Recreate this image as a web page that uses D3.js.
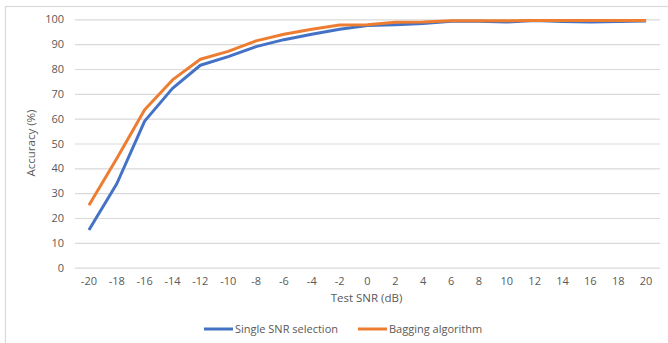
<!DOCTYPE html>
<html>
<head>
<meta charset="utf-8">
<script src="https://cdn.jsdelivr.net/npm/d3@7"></script>
<style>
  html, body { margin: 0; padding: 0; background: #fff; }
  svg { display: block; }
  text { font-family: "Open Sans", "Liberation Sans", sans-serif; fill: #595959; }
</style>
</head>
<body>
<script>
// Test SNR values (dB) on the category axis
const snr = [-20, -18, -16, -14, -12, -10, -8, -6, -4, -2, 0, 2, 4, 6, 8, 10, 12, 14, 16, 18, 20];
// Accuracy (%) for each method
const singleSnr = [15.2, 33.8, 59.0, 72.2, 81.5, 85.0, 89.0, 91.8, 94.0, 96.0, 97.5, 97.8, 98.3, 99.2, 99.2, 98.9, 99.5, 99.1, 98.9, 99.1, 99.3];
const bagging   = [25.1, 44.0, 63.6, 75.6, 83.9, 87.1, 91.3, 94.0, 96.0, 97.7, 97.8, 98.8, 98.9, 99.4, 99.4, 99.4, 99.5, 99.5, 99.5, 99.5, 99.5];
const yTicks = [0, 10, 20, 30, 40, 50, 60, 70, 80, 90, 100];
const seriesNames = ["Single SNR selection", "Bagging algorithm"];
const seriesColors = ["#4472C4", "#ED7D31"];

const W = 668, H = 343;
const plot = { left: 75, right: 660, top: 19.3, bottom: 267.7 };

const svg = d3.select("body").append("svg").attr("width", W).attr("height", H);

// chart frame
svg.append("rect")
  .attr("x", 5.5).attr("y", 6.5)
  .attr("width", 800).attr("height", 500)
  .attr("fill", "none").attr("stroke", "#d9d9d9").attr("stroke-width", 1.2);

const x = d3.scaleBand().domain(snr).range([plot.left, plot.right]);
const y = d3.scaleLinear().domain([0, 100]).range([plot.bottom, plot.top]);

// horizontal gridlines + y tick labels
const yAxis = d3.axisLeft(y).tickValues(yTicks).tickSize(-(plot.right - plot.left)).tickPadding(11);
const gy = svg.append("g").attr("transform", `translate(${plot.left},0)`).call(yAxis);
gy.select(".domain").remove();
gy.selectAll(".tick line").attr("stroke", "#d9d9d9").attr("stroke-width", 1.2);
gy.selectAll(".tick text").attr("font-size", 11).style("fill", "#595959")
  .style("font-family", "'Open Sans', sans-serif");

// x tick labels
const xAxis = d3.axisBottom(x).tickSize(0).tickPadding(10);
const gx = svg.append("g").attr("transform", `translate(0,${plot.bottom})`).call(xAxis);
gx.select(".domain").remove();
gx.selectAll(".tick text").attr("font-size", 11).style("fill", "#595959")
  .style("font-family", "'Open Sans', sans-serif");

// axis titles
svg.append("text")
  .attr("x", (plot.left + plot.right) / 2 - 1).attr("y", 302)
  .attr("text-anchor", "middle").attr("font-size", 11.5)
  .text("Test SNR (dB)");
svg.append("text")
  .attr("transform", `translate(35,143) rotate(-90)`)
  .attr("text-anchor", "middle").attr("font-size", 11.5)
  .text("Accuracy (%)");

// series lines
const line = d3.line()
  .x((d, i) => x(snr[i]) + x.bandwidth() / 2)
  .y(d => y(d));

[singleSnr, bagging].forEach((vals, k) => {
  svg.append("path")
    .datum(vals)
    .attr("d", line)
    .attr("fill", "none")
    .attr("stroke", seriesColors[k])
    .attr("stroke-width", 3)
    .attr("stroke-linejoin", "round");
});

// legend
const legendItems = [
  { x0: 204, name: seriesNames[0], color: seriesColors[0] },
  { x0: 358, name: seriesNames[1], color: seriesColors[1] }
];
const lg = svg.append("g");
legendItems.forEach(it => {
  lg.append("line")
    .attr("x1", it.x0).attr("x2", it.x0 + 29)
    .attr("y1", 329).attr("y2", 329)
    .attr("stroke", it.color).attr("stroke-width", 3);
  lg.append("text")
    .attr("x", it.x0 + 31).attr("y", 333)
    .attr("font-size", 11)
    .text(it.name);
});
</script>
</body>
</html>
